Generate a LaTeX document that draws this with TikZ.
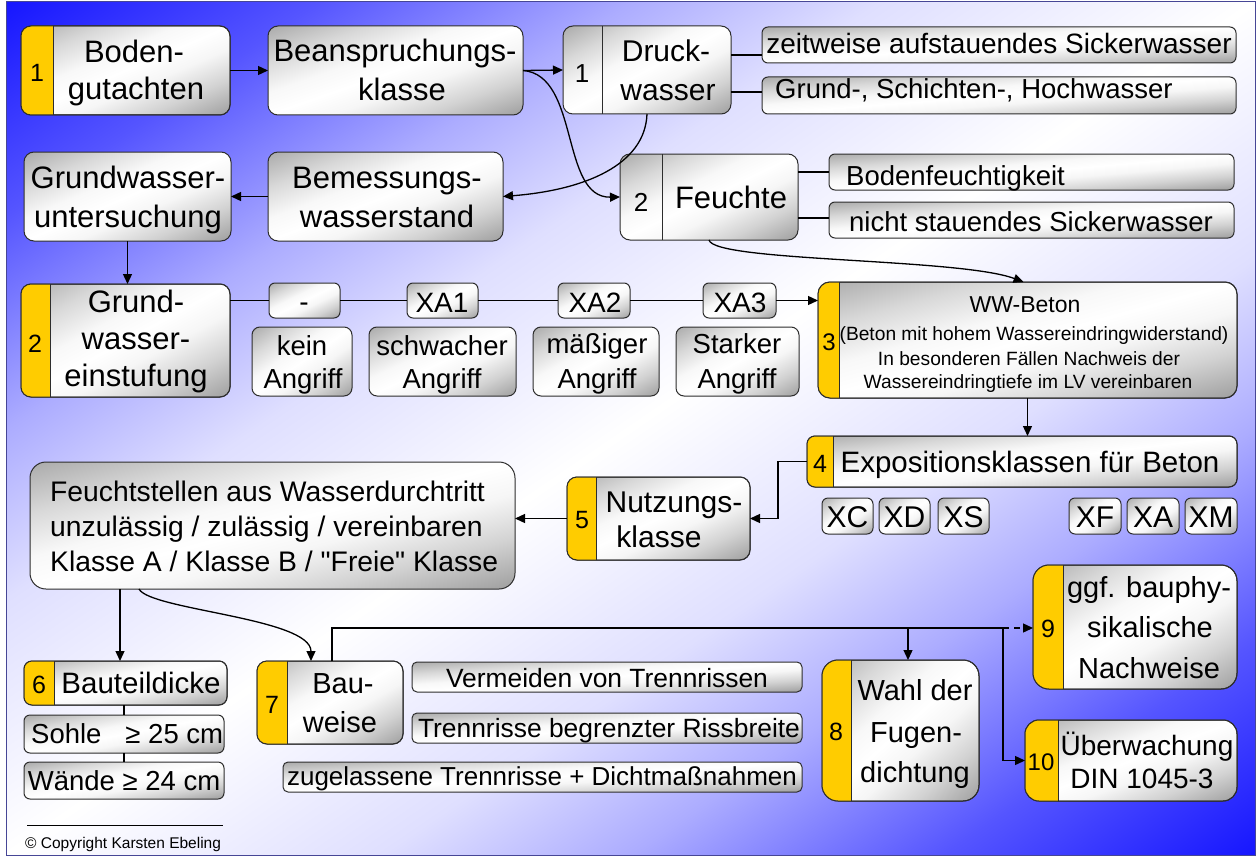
\documentclass[tikz,border=0pt]{standalone}
\usepackage{fontspec}
\setmainfont{Liberation Sans}
\newfontfamily\plainfont{Liberation Sans}
\usetikzlibrary{arrows.meta,calc}
\definecolor{bgblue}{RGB}{22,22,255}
\definecolor{bgc3}{RGB}{223,223,255}
\definecolor{bgc5}{RGB}{172,172,255}
\definecolor{bgc75}{RGB}{85,85,255}
\definecolor{tabcol}{RGB}{255,204,0}
\definecolor{lineg}{RGB}{45,45,45}
\definecolor{boxtl}{RGB}{170,170,170}
\definecolor{boxtlm}{RGB}{216,216,216}
\definecolor{boxtlw}{RGB}{248,248,248}
\definecolor{boxbr}{RGB}{158,158,158}
\definecolor{boxbrm}{RGB}{210,210,210}
\definecolor{boxbrw}{RGB}{246,246,246}
\definecolor{frameblue}{RGB}{70,70,150}
\pgfdeclareverticalshading{bgsh}{100bp}{color(0bp)=(bgblue); color(26.2bp)=(bgblue); color(32.15bp)=(bgc75); color(38.1bp)=(bgc5); color(42.86bp)=(bgc3); color(50bp)=(white); color(57.14bp)=(bgc3); color(61.9bp)=(bgc5); color(67.85bp)=(bgc75); color(73.8bp)=(bgblue); color(100bp)=(bgblue)}
\pgfdeclareverticalshading{boxsh}{100bp}{color(0bp)=(boxbr); color(26.2bp)=(boxbr); color(35.7bp)=(boxbrm); color(44.05bp)=(boxbrw); color(50bp)=(white); color(55.95bp)=(boxtlw); color(64.3bp)=(boxtlm); color(73.8bp)=(boxtl); color(100bp)=(boxtl)}
\tikzset{
  boxline/.style={draw=lineg, line width=1pt},
  txt/.style={anchor=base, inner sep=0pt, font=\fontsize{29}{29}\selectfont},
  btxt/.style={anchor=base, inner sep=0pt, font=\fontsize{31}{31}\selectfont},
  stxt/.style={anchor=base, inner sep=0pt, font=\fontsize{27.5}{27.5}\selectfont},
  vtxt/.style={anchor=base, inner sep=0pt, font=\fontsize{26.4}{26.4}\selectfont},
  num/.style={anchor=base, inner sep=0pt, font=\fontsize{25}{25}\selectfont},
  conn/.style={draw=black, line width=1.3pt},
  arr/.style={conn, -{Triangle[length=10pt,width=9pt]}},
}
% plain box: name x1 y1 x2 y2 radius
\newcommand\Bx[6]{%
  \begin{scope}
    \clip[rounded corners=#6] (#2,#3) rectangle (#4,#5);
    \begin{scope}[transform canvas={shift={({(#2+#4)/2},{(#3+#5)/2})}, xscale={(#4-#2)/200}, yscale={(#5-#3)/200}, rotate=45}]
      \shade[shading=boxsh] (-148.5,-148.5) rectangle (148.5,148.5);
    \end{scope}
  \end{scope}
  \node[draw=lineg, line width=1pt, rounded corners=#6, inner sep=0pt, outer sep=0pt, minimum width={#4-#2}, minimum height={#5-#3}] (#1) at ({(#2+#4)/2},{(#3+#5)/2}) {};}
% tab box: name x1 y1 x2 y2 tabx radius
\newcommand\Tbx[7]{%
  \Bx{#1}{#2}{#3}{#4}{#5}{#7}
  \begin{scope}
    \clip ({#2-3},{#3-3}) rectangle (#6,{#5+3});
    \fill[tabcol, rounded corners=#7] (#1.north west) rectangle (#1.south east);
  \end{scope}
  \draw[boxline] (#6,#3) -- (#6,#5);
  \draw[boxline, rounded corners=#7] (#1.north west) rectangle (#1.south east);
}
\newcommand\Tl[4]{\node[txt] (#1) at (#2,#3) {#4};}
\newcommand\Tb[4]{\node[btxt] (#1) at (#2,#3) {#4};}
\newcommand\Ts[4]{\node[stxt] (#1) at (#2,#3) {#4};}
\newcommand\Tv[4]{\node[vtxt] (#1) at (#2,#3) {#4};}
\newcommand\Nm[4]{\node[num] (#1) at (#2,#3) {#4};}
\begin{document}
\begin{tikzpicture}[x=1pt,y=-1pt]
\useasboundingbox (0,0) rectangle (1260,856);
\fill[white] (0,0) rectangle (1260,856);
\begin{scope}
  \clip (6,2) rectangle (1255,855);
  \begin{scope}[transform canvas={shift={(630.5,428.5)}, xscale=6.245, yscale=4.265, rotate=45}]
    \shade[shading=bgsh] (-148.5,-148.5) rectangle (148.5,148.5);
  \end{scope}
\end{scope}
\draw[frameblue, line width=1pt] (6,2) rectangle (1255,855);

% ---- row 1
\Tbx{b1}{21}{26}{230}{115}{53}{10}
\Nm{n1}{37}{82}{1}
\Tb{t1a}{134}{63}{Boden-}
\Tb{t1b}{136}{100}{gutachten}

\Bx{bean}{268}{26}{523}{115}{10}
\Tb{t2a}{395}{62}{Beanspruchungs-}
\Tb{t2b}{402}{101}{klasse}

\Bx{druck}{563}{26}{731}{114}{10}
\draw[boxline] (602,26) -- (602,114);
\node[num, font=\fontsize{26}{26}\selectfont] (n1d) at (582,83) {1};
\node[txt, font=\fontsize{30}{30}\selectfont] (t3a) at (666,62) {Druck-};
\node[txt, font=\fontsize{30}{30}\selectfont] (t3b) at (668,101) {wasser};

\Bx{zeit}{762}{27}{1236}{63}{6}
\node[stxt, font=\fontsize{28}{28}\selectfont] (t4) at (999,54) {zeitweise aufstauendes Sickerwasser};
\Bx{grund}{762}{77}{1236}{114}{6}
\node[stxt, anchor=base west] (t4b) at (775,99) {Grund-, Schichten-, Hochwasser};

% ---- row 2
\Bx{unters}{24}{152}{231}{241}{10}
\Tb{t5a}{128}{188}{Grundwasser-}
\Tb{t5b}{128}{227}{untersuchung}

\Bx{bemess}{268}{152}{503}{241}{10}
\Tb{t6a}{387}{188}{Bemessungs-}
\Tb{t6b}{387}{227}{wasserstand}

\Bx{feuchte}{620}{154}{798}{240}{10}
\draw[boxline] (662,154) -- (662,240);
\node[num, font=\fontsize{26}{26}\selectfont] (n2f) at (641,211) {2};
\Tb{t7}{731}{208}{Feuchte}

\Bx{bodenf}{829}{154}{1234}{190}{6}
\node[stxt, anchor=base west] (t8) at (846,185) {Bodenfeuchtigkeit};
\Bx{nicht}{829}{202}{1234}{238}{6}
\Ts{t9}{1031}{231}{nicht stauendes Sickerwasser}

% ---- row 3
\Tbx{einst}{21}{284}{230}{397}{50}{10}
\Nm{n2}{35}{352}{2}
\Tb{t10a}{136}{312}{Grund-}
\Tb{t10b}{136}{349}{wasser-}
\Tb{t10c}{136}{386}{einstufung}

\Bx{dash}{269}{283}{340}{318}{6}
\node[num, font=\fontsize{28}{28}\selectfont] (t11) at (304,311) {-};
\Bx{xa1}{407}{283}{478}{318}{6}
\node[num, font=\fontsize{28}{28}\selectfont] (t12) at (442,312) {XA1};
\Bx{xa2}{558}{283}{630}{318}{6}
\node[num, font=\fontsize{28}{28}\selectfont] (t13) at (595,312) {XA2};
\Bx{xa3}{703}{283}{776}{318}{6}
\node[num, font=\fontsize{28}{28}\selectfont] (t14) at (740,312) {XA3};

\Bx{kein}{252}{327}{352}{396}{8}
\Ts{t15a}{302}{355}{kein}
\Ts{t15b}{303}{388}{Angriff}
\Bx{schw}{369}{327}{516}{396}{8}
\Ts{t16a}{442}{355}{schwacher}
\Ts{t16b}{442}{388}{Angriff}
\Bx{maess}{533}{327}{659}{396}{8}
\Ts{t17a}{597}{353}{mäßiger}
\Ts{t17b}{597}{388}{Angriff}
\Bx{stark}{676}{327}{799}{396}{8}
\Ts{t18a}{737}{353}{Starker}
\Ts{t18b}{737}{388}{Angriff}

\Tbx{ww}{818}{282}{1237}{398}{839}{12}
\node[num, font=\fontsize{24}{24}\selectfont] (n3) at (829,350) {3};
\node[anchor=base, inner sep=0pt, font=\fontsize{23}{23}\selectfont] (t19a) at (1025,312) {WW-Beton};
\node[anchor=base, inner sep=0pt, font=\fontsize{19.2}{19.2}\selectfont] (t19b) at (1034,340) {(Beton mit hohem Wassereindringwiderstand)};
\node[anchor=base, inner sep=0pt, font=\fontsize{19.2}{19.2}\selectfont] (t19c) at (1029,365) {In besonderen Fällen Nachweis der};
\node[anchor=base, inner sep=0pt, font=\fontsize{19.2}{19.2}\selectfont] (t19d) at (1028,388) {Wassereindringtiefe im LV vereinbaren};

% ---- row 4
\Tbx{expo}{807}{436}{1237}{487}{833}{8}
\Nm{n4}{820}{472}{4}
\node[txt, font=\fontsize{29.5}{29.5}\selectfont] (t20) at (1030,472) {Expositionsklassen für Beton};

\Bx{xc}{822}{498}{873}{534}{6}
\node[num, font=\fontsize{30}{30}\selectfont] (txc) at (847.5,527) {XC};
\Bx{xd}{879}{498}{930}{534}{6}
\node[num, font=\fontsize{30}{30}\selectfont] (txd) at (904.5,527) {XD};
\Bx{xs}{938}{498}{989}{534}{6}
\node[num, font=\fontsize{30}{30}\selectfont] (txs) at (963.5,527) {XS};
\Bx{xf}{1069}{498}{1121}{534}{6}
\node[num, font=\fontsize{30}{30}\selectfont] (txf) at (1095,527) {XF};
\Bx{xa}{1127}{498}{1179}{534}{6}
\node[num, font=\fontsize{30}{30}\selectfont] (txa) at (1153,527) {XA};
\Bx{xm}{1185}{498}{1237}{534}{6}
\node[num, font=\fontsize{30}{30}\selectfont] (txm) at (1211,527) {XM};

\Tbx{nutz}{567}{477}{750}{560}{596}{10}
\Nm{n5}{582}{528}{5}
\node[txt, font=\fontsize{30}{30}\selectfont] (t21a) at (674,512) {Nutzungs-};
\node[txt, font=\fontsize{30}{30}\selectfont] (t21b) at (659,547) {klasse};

\Bx{big}{30}{462}{515}{589}{16}
\node[anchor=base west, inner sep=0pt, font=\fontsize{28.3}{28.3}\selectfont] (t22a) at (50,501) {Feuchtstellen aus Wasserdurchtritt};
\node[anchor=base west, inner sep=0pt, font=\fontsize{28.3}{28.3}\selectfont] (t22b) at (50,536) {unzulässig / zulässig / vereinbaren};
\node[anchor=base west, inner sep=0pt, font=\fontsize{28.3}{28.3}\selectfont] (t22c) at (50,571) {Klasse A / Klasse B / {\plainfont"}Freie{\plainfont"} Klasse};

% ---- row 5
\Tbx{b6}{24}{661}{227}{705}{54}{8}
\Nm{n6}{39}{693}{6}
\node[txt, font=\fontsize{29.5}{29.5}\selectfont] (t23) at (141,693) {Bauteildicke};
\Bx{sohle}{24}{715}{224}{753}{6}
\node[stxt, anchor=base west] (t24) at (31,743) {Sohle\hspace{24pt}≥ 25 cm};
\Bx{wande}{24}{762}{224}{799}{6}
\Ts{t25}{124}{790}{Wände ≥ 24 cm}

\draw[black, line width=0.8pt] (27,825) -- (223,825);
\node[anchor=base west, inner sep=0pt, font=\fontsize{15.5}{15.5}\selectfont] (copy) at (25,848) {© Copyright Karsten Ebeling};

\Tbx{b7}{257}{661}{403}{744}{287}{10}
\Nm{n7}{272}{713}{7}
\Tl{t26a}{343}{693}{Bau-}
\Tl{t26b}{340}{732}{weise}

\Bx{verm}{412}{662}{802}{692}{5}
\Tv{t27}{607}{687}{Vermeiden von Trennrissen}
\Bx{begr}{412}{713}{802}{743}{5}
\Tv{t28}{609}{737}{Trennrisse begrenzter Rissbreite}
\Bx{zug}{283}{762}{802}{792}{5}
\node[vtxt, font=\fontsize{26}{26}\selectfont] (t29) at (542,785) {zugelassene Trennrisse + Dichtmaßnahmen};

\Tbx{b8}{822}{660}{979}{801}{851}{16}
\Nm{n8}{836}{740}{8}
\Tl{t30a}{915}{700}{Wahl der}
\Tl{t30b}{916}{742}{Fugen-}
\Tl{t30c}{915}{782}{dichtung}

\Tbx{b9}{1033}{565}{1237}{689}{1063}{16}
\Nm{n9}{1048}{637}{9}
\Tl{t31a}{1149}{597}{ggf. bauphy-}
\Tl{t31b}{1150}{637}{sikalische}
\Tl{t31c}{1149}{678}{Nachweise}

\Tbx{b10}{1025}{720}{1237}{801}{1058}{14}
\node[num, font=\fontsize{24}{24}\selectfont] (n10) at (1041,770) {10};
\node[anchor=base, inner sep=0pt, font=\fontsize{28}{28}\selectfont] (t32a) at (1147,755) {Überwachung};
\node[anchor=base, inner sep=0pt, font=\fontsize{28}{28}\selectfont] (t32b) at (1142,788) {DIN 1045-3};

% ---- connectors
\draw[arr] (b1.east) -- (bean.west);
\draw[arr] (bean.east) -- (druck.west);
\draw[arr] (bean.east) .. controls (580,75) and (560,198) .. (feuchte.west);
\draw[arr] (druck.south) .. controls (645,165) and (585,190) .. (bemess.east);
\draw[conn] (druck.east |- 0,55) -- (zeit.west |- 0,55);
\draw[conn] (druck.east |- 0,92) -- (grund.west |- 0,92);
\draw[conn] (feuchte.east |- 0,172) -- (bodenf.west |- 0,172);
\draw[conn] (feuchte.east |- 0,218) -- (nicht.west |- 0,218);
\draw[arr] (feuchte.south) .. controls (714,262) and (960,258) .. ($(ww.north)+(-4,0)$);
\draw[arr] (bemess.west) -- (unters.east);
\draw[arr] (unters.south) -- (unters.south |- einst.north);
\draw[conn] (einst.east |- dash.west) -- (dash.west);
\draw[conn] (dash.east) -- (xa1.west);
\draw[conn] (xa1.east) -- (xa2.west);
\draw[conn] (xa2.east) -- (xa3.west);
\draw[arr] (xa3.east) -- (xa3.east -| ww.west);
\draw[arr] (ww.south) -- (ww.south |- expo.north);
\draw[arr] (expo.west) -- ++(-29,0) |- (nutz.east);
\draw[arr] (nutz.west) -- (nutz.west -| big.east);
\draw[arr] (big.south -| 120,0) -- (b6.north -| 120,0);
\draw[arr] (big.south -| 139,0) .. controls (150,610) and (311,618) .. ($(b7.north)+(-19,0)$);
\draw[conn] (b6.south -| sohle.north) -- (sohle.north);
\draw[conn] (sohle.south) -- (wande.north);
\coordinate (j1) at (332,628);
\coordinate (j2) at (908,628);
\coordinate (j3) at (1003,628);
\draw[conn] (b7.north -| j1) -- (j1) -- (j3);
\draw[arr] (j2) -- (j2 |- b8.north);
\draw[arr, dash pattern=on 6pt off 5pt] (j3) -- (j3 -| b9.west);
\draw[arr] (j3) |- (b10.west);
\end{tikzpicture}
\end{document}
